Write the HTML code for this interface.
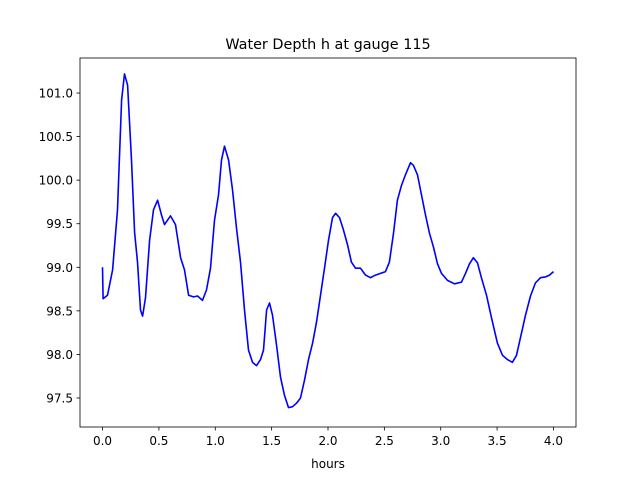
<!DOCTYPE html>
<html><head><meta charset="utf-8"><style>
body{margin:0;background:#fff;font-family:"DejaVu Sans","Liberation Sans",sans-serif}
svg text{font-family:"DejaVu Sans","Liberation Sans",sans-serif;font-size:12px;fill:#000}
</style></head><body>
<svg id="chart" width="640" height="480">
<rect x="0" y="0" width="640" height="480" fill="#fff"/>
<text x="328" y="49" text-anchor="middle" style="font-size:14.4px">Water Depth h at gauge 115</text>
<text x="328" y="468" text-anchor="middle">hours</text>
<g id="ticks"></g>
<polyline id="line" fill="none" stroke="#0000ff" stroke-width="1.6" stroke-linejoin="round"/>
<rect x="80" y="58" width="496" height="369" fill="none" stroke="#000" stroke-width="0.8"/>
</svg>
<script>
const hours=[0,0.005,0.044,0.089,0.133,0.169,0.195,0.222,0.257,0.284,0.310,0.337,0.355,0.381,0.417,0.452,0.488,0.523,0.550,0.576,0.603,0.647,0.692,0.727,0.763,0.807,0.843,0.887,0.922,0.958,0.993,1.029,1.055,1.082,1.118,1.153,1.188,1.224,1.259,1.295,1.330,1.366,1.401,1.428,1.455,1.481,1.508,1.543,1.579,1.614,1.650,1.685,1.721,1.756,1.792,1.827,1.863,1.898,1.933,1.969,2.004,2.040,2.067,2.102,2.137,2.173,2.208,2.244,2.288,2.333,2.377,2.421,2.466,2.510,2.545,2.581,2.616,2.652,2.687,2.732,2.758,2.794,2.829,2.865,2.900,2.936,2.971,3.007,3.060,3.122,3.184,3.220,3.255,3.290,3.326,3.361,3.406,3.450,3.503,3.548,3.592,3.636,3.672,3.707,3.752,3.796,3.840,3.885,3.929,3.965,4.000];
const depth=[99.00,98.64,98.68,98.97,99.66,100.92,101.22,101.09,100.23,99.40,99.06,98.51,98.44,98.65,99.31,99.66,99.77,99.60,99.49,99.54,99.59,99.49,99.11,98.97,98.68,98.66,98.67,98.62,98.74,98.99,99.54,99.83,100.23,100.39,100.23,99.89,99.45,99.06,98.51,98.05,97.91,97.87,97.94,98.05,98.51,98.59,98.45,98.11,97.74,97.53,97.39,97.40,97.44,97.50,97.71,97.94,98.13,98.37,98.67,98.99,99.31,99.57,99.62,99.57,99.43,99.26,99.06,98.99,98.99,98.91,98.88,98.91,98.93,98.95,99.06,99.39,99.77,99.94,100.06,100.20,100.17,100.06,99.83,99.60,99.39,99.23,99.04,98.93,98.85,98.81,98.83,98.93,99.04,99.11,99.05,98.88,98.68,98.42,98.13,97.99,97.94,97.91,97.99,98.19,98.45,98.67,98.82,98.88,98.89,98.91,98.95];
const xTicks=[0,0.5,1,1.5,2,2.5,3,3.5,4];
const xTickLabels=["0.0","0.5","1.0","1.5","2.0","2.5","3.0","3.5","4.0"];
const yTicks=[97.5,98,98.5,99,99.5,100,100.5,101];
const yTickLabels=["97.5","98.0","98.5","99.0","99.5","100.0","100.5","101.0"];
const X=v=>80+(v+0.2)/4.4*496;
const Y=v=>58+(101.402-v)/(101.402-97.167)*369;
const NS="http://www.w3.org/2000/svg";
const g=document.getElementById('ticks');
xTicks.forEach((t,i)=>{
 const l=document.createElementNS(NS,'line');
 l.setAttribute('x1',X(t));l.setAttribute('x2',X(t));l.setAttribute('y1',427);l.setAttribute('y2',430.5);l.setAttribute('stroke','#000');l.setAttribute('stroke-width','0.8');
 
 
 g.appendChild(l);
 const tx=document.createElementNS(NS,'text');
 tx.setAttribute('x',X(t));tx.setAttribute('y',445);tx.setAttribute('text-anchor','middle');tx.textContent=xTickLabels[i];
 
 
 g.appendChild(tx);
});
yTicks.forEach((t,i)=>{
 const l=document.createElementNS(NS,'line');
 l.setAttribute('x1',76.5);l.setAttribute('x2',80);l.setAttribute('y1',Y(t));l.setAttribute('y2',Y(t));l.setAttribute('stroke','#000');l.setAttribute('stroke-width','0.8');
 
 
 g.appendChild(l);
 const tx=document.createElementNS(NS,'text');
 tx.setAttribute('x',73);tx.setAttribute('y',Y(t)+4.5);tx.setAttribute('text-anchor','end');tx.textContent=yTickLabels[i];
 
 
 g.appendChild(tx);
});
document.getElementById('line').setAttribute('points',hours.map((h,i)=>X(h).toFixed(1)+','+Y(depth[i]).toFixed(1)).join(' '));
</script>
</body></html>
